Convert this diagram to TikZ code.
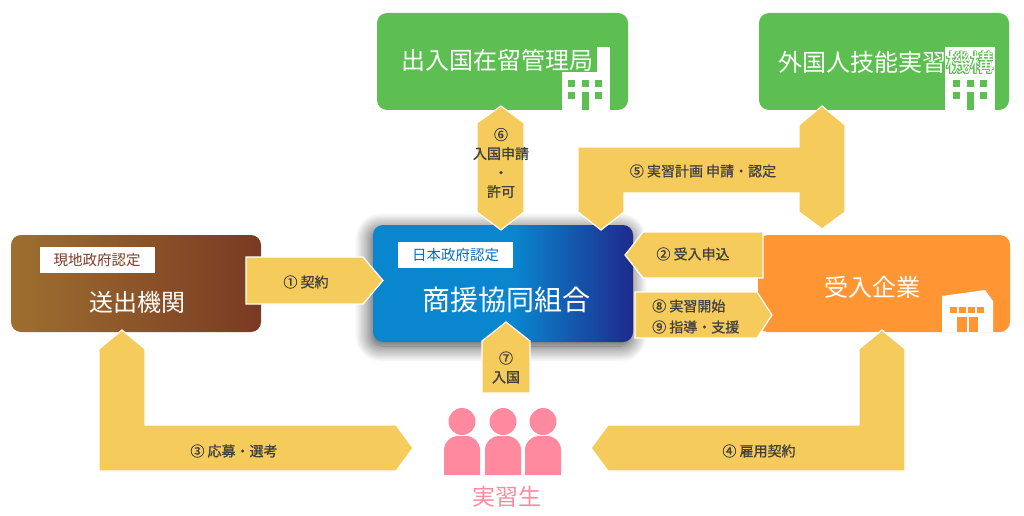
\documentclass[tikz,border=0pt]{standalone}
\usepackage{fontspec}
\setmainfont{Noto Sans CJK JP}
\newfontfamily\lblfont[FakeBold=1]{Noto Sans CJK JP}
\usepackage{contour}
\contourlength{0.7pt}
\usetikzlibrary{shadows.blur}
\definecolor{grn}{HTML}{5DBF51}
\definecolor{org}{HTML}{FF9633}
\definecolor{arrowy}{HTML}{F5CB5C}
\definecolor{bluel}{HTML}{0A86CF}
\definecolor{blued}{HTML}{1E2A8C}
\definecolor{brnl}{HTML}{9E6F30}
\definecolor{brnd}{HTML}{7A3A23}
\definecolor{brntag}{HTML}{7B3A26}
\definecolor{bluetag}{HTML}{0D6BC1}
\definecolor{lbl}{HTML}{404040}
\definecolor{pnk}{HTML}{FF8AA0}
\pgfdeclarehorizontalshading{kumiaishade}{100bp}{color(0bp)=(bluel); color(25bp)=(bluel);
  color(52bp)=(bluel); color(75bp)=(blued); color(100bp)=(blued)}
\begin{document}
\begin{tikzpicture}[x=1pt,y=-1pt] \tikzset{% This is the style settings for nodes
        box/.style={rounded corners=10pt,minimum width=250pt,minimum height=97pt,inner sep=0pt},
        boxtext/.style={text=white,inner sep=0pt,font=\fontsize{24}{28}\selectfont},
        tag/.style={fill=white,minimum width=115pt,minimum height=26pt,inner sep=0pt,font=\fontsize{14.5}{16}\selectfont},
        blockarrow/.style={fill=arrowy,draw=white,line width=1.2pt},
        albl/.style={text=lbl,inner sep=0pt,align=center,font=\lblfont\fontsize{14}{19}\selectfont},
        %pers/.style={fill=pink},
        }
        \useasboundingbox (0,0) rectangle (1024,516);
        % Nodes
        \node[box,fill=grn,minimum width=251pt] (imm) at (502.5,61.5) {};
        \node[box,fill=grn] (oitc) at (884,61.5) {};
        \node[box,left color=brnl,right color=brnd] (okuri) at (136,283.5) {};
        \node[box,fill=org,minimum width=252pt] (ukeire) at (884,283.5) {};
        \node[box,shade,shading=kumiaishade,minimum width=260pt,minimum height=117pt,
          blur shadow={shadow xshift=-2pt,shadow yshift=-4pt,shadow blur radius=16pt,shadow blur steps=14,shadow opacity=75}] (kumiai) at (503,283.5) {};
        % Buildings
        \fill[white] (597,47) rectangle (610,110); \fill[white] (562,72) rectangle (610,110);
        \foreach \wx in {568,581.5,595} \fill[grn] (\wx,80) rectangle ++(7,7);
        \foreach \wx in {568,595} \fill[grn] (\wx,92) rectangle ++(7,7);
        \fill[grn] (581.5,92) rectangle (588.5,110);
        \fill[white] (945,47) rectangle (995,110);
        \foreach \wx in {953,966.5,980} \fill[grn] (\wx,80) rectangle ++(7,7);
        \foreach \wx in {953,980} \fill[grn] (\wx,92) rectangle ++(7,7);
        \fill[grn] (966.5,92) rectangle (973.5,110);
        \fill[white] (942,332) -- (942,296) -- (985,290) -- (993,301) -- (993,332) -- cycle;
        \foreach \wx in {950,959,968,977} \fill[org] (\wx,307) rectangle ++(7,6);
        \fill[org] (957,317) rectangle (967,332); \fill[org] (969,317) rectangle (978,332);
        % Box texts
        \node[boxtext] (immtxt) at (497,61) {\contour{grn}{出入国在留管理局}};
        \node[boxtext] (oitctxt) at (886,63) {\contour{grn}{外国人技能実習機構}};
        \node[boxtext] (okuritxt) at (137,302) {送出機関};
        \node[boxtext] (ukeiretxt) at (872,287) {受入企業};
        \node[boxtext,font=\fontsize{28}{32}\selectfont] (kumiaitxt) at (506,300) {商援協同組合};
        \node[tag,text=brntag] (okuritag) at (97,260) {現地政府認定};
        \node[tag,text=bluetag] (kumiaitag) at (455.5,255) {日本政府認定};
        %Edges
        \draw[blockarrow] (501,106) -- (524,123) -- (524,212) -- (501,230) -- (477,212) -- (477,123) -- cycle;
        \draw[blockarrow] (822,106) -- (845,125) -- (845,212) -- (822,229) -- (799,212) -- (799,193) -- (624,193)
          -- (624,212) -- (601,230) -- (578,212) -- (578,147) -- (799,147) -- (799,125) -- cycle;
        \draw[blockarrow] (246,257) -- (363,257) -- (383,280.5) -- (363,304) -- (246,304) -- cycle;
        \draw[blockarrow] (625,255) -- (643,232) -- (763,232) -- (763,278) -- (643,278) -- cycle;
        \draw[blockarrow] (635,292) -- (757,292) -- (772,315) -- (757,338) -- (635,338) -- cycle;
        \draw[blockarrow] (506,322) -- (530,341) -- (530,393) -- (482,393) -- (482,341) -- cycle;
        \draw[blockarrow] (122,330) -- (145,349) -- (145,425) -- (396,425) -- (413,448) -- (396,471) -- (99,471) -- (99,349) -- cycle;
        \draw[blockarrow] (882,330) -- (905,349) -- (905,471) -- (608,471) -- (591,448) -- (608,425) -- (859,425) -- (859,349) -- cycle;
        % Arrow labels
        \node[albl] (l6) at (501,163) {⑥\\入国申請\\・\\許可};
        \node[albl] (l5) at (703,171) {⑤ 実習計画 申請・認定};
        \node[albl] (l1) at (306,282) {① 契約};
        \node[albl] (l2) at (693,254) {② 受入申込};
        \node[albl,align=left,anchor=west,font=\lblfont\fontsize{14}{21}\selectfont] (l89) at (652,316.5) {⑧ 実習開始\\⑨ 指導・支援};
        \node[albl] (l7) at (506,367.5) {⑦\\入国};
        \node[albl] (l3) at (234,451) {③ 応募・選考};
        \node[albl] (l4) at (759,451) {④ 雇用契約};
        % Trainees
        \foreach \px in {462,503,543} {
          \fill[pnk] (\px,421.5) circle (13.5);
          \fill[pnk,rounded corners=14pt] (\px-18,475) -- (\px-18,436) -- (\px+18,436) -- (\px+18,475);
        }
        \node[text=pnk,inner sep=0pt,font=\fontsize{23}{26}\selectfont] (trainee) at (507,497) {実習生};
\end{tikzpicture}
\end{document}
